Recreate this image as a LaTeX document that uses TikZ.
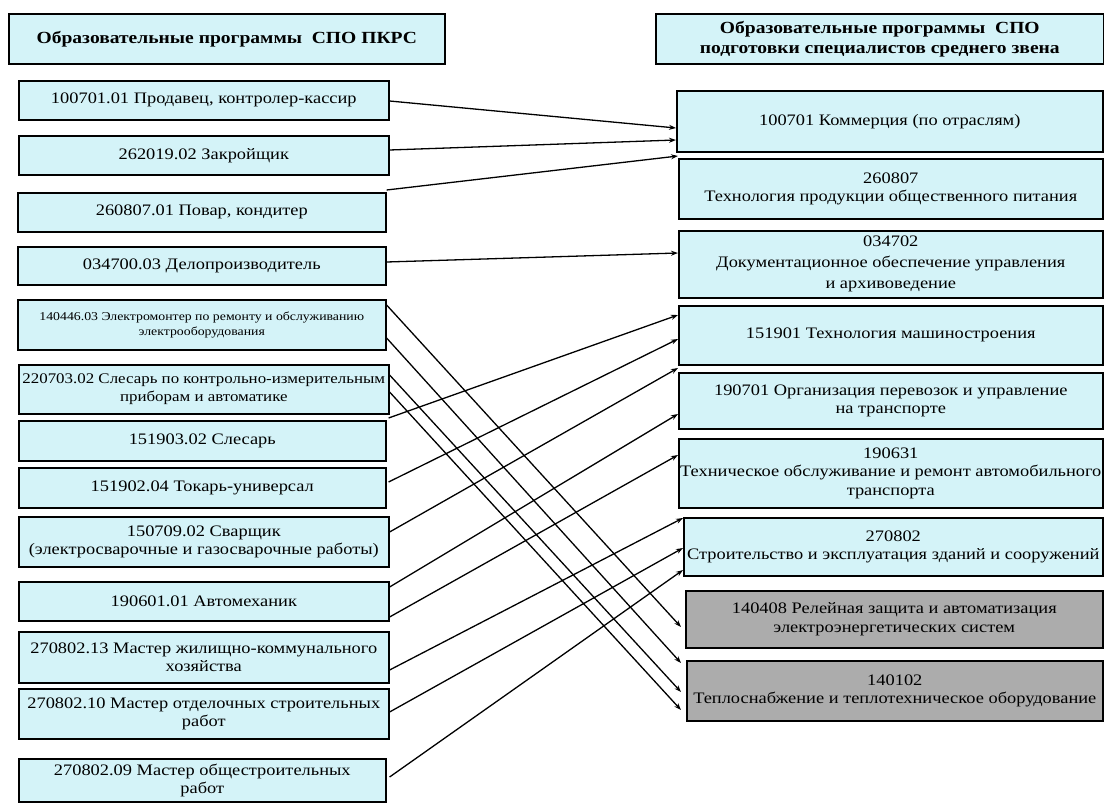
\documentclass[tikz,border=0pt]{standalone}
\usepackage{fontspec}
\setmainfont{Liberation Serif}[FakeStretch=1.15, BoldFont={Liberation Serif Bold}, BoldFeatures={FakeStretch=1.15}]
\usetikzlibrary{arrows.meta,calc}
\definecolor{cyanfill}{RGB}{212,243,248}
\definecolor{grayfill}{RGB}{172,172,172}
\tikzset{
  box/.style={draw, line width=1.6pt, fill=cyanfill, align=center, inner sep=0pt, anchor=north west, font=\fontsize{16}{18.5}\selectfont},
  graybox/.style={box, fill=grayfill},
  titlebox/.style={box, font=\fontsize{17}{20}\selectfont\bfseries},
  conn/.style={line width=1.3pt, -{Stealth[length=7pt,width=5pt]}}
}
\begin{document}
\begin{tikzpicture}[x=1pt,y=-1pt]
\fill[white] (0,0) rectangle (1104,803);
\useasboundingbox (0,0) rectangle (1104,803);
% left column
\node[titlebox, minimum width=436, minimum height=50] (LT) at (8,13) {Образовательные программы\ \ СПО ПКРС};
\node[box, minimum width=370, minimum height=39] (L1) at (18,80) {100701.01 Продавец, контролер-кассир};
\node[box, minimum width=370, minimum height=39] (L2) at (18,135) {262019.02 Закройщик};
\node[box, minimum width=368, minimum height=39] (L3) at (17,192) {260807.01 Повар, кондитер};
\node[box, minimum width=368, minimum height=38] (L4) at (17,246) {034700.03 Делопроизводитель};
\node[box, minimum width=368, minimum height=50, font=\fontsize{12}{15}\selectfont] (L5) at (17,299) {140446.03 Электромонтер по ремонту и обслуживанию\\электрооборудования};
\node[box, minimum width=370, minimum height=49, font=\fontsize{14.7}{17.5}\selectfont] (L6) at (18,364) {220703.02 Слесарь по контрольно-измерительным\\приборам и автоматике};
\node[box, minimum width=367, minimum height=40] (L7) at (18,420) {151903.02 Слесарь};
\node[box, minimum width=367, minimum height=40] (L8) at (18,467) {151902.04 Токарь-универсал};
\node[box, minimum width=370, minimum height=50] (L9) at (18,516) {150709.02 Сварщик\\(электросварочные и газосварочные работы)};
\node[box, minimum width=370, minimum height=39] (L10) at (18,581) {190601.01 Автомеханик};
\node[box, minimum width=370, minimum height=51] (L11) at (18,631) {270802.13 Мастер жилищно-коммунального\\хозяйства};
\node[box, minimum width=370, minimum height=50] (L12) at (18,688) {270802.10 Мастер отделочных строительных\\работ};
\node[box, minimum width=367, minimum height=43] (L13) at (18,758) {270802.09 Мастер общестроительных\\работ};
% right column
\node[titlebox, minimum width=448, minimum height=50] (RT) at (655,13) {Образовательные программы\ \ СПО\\подготовки специалистов среднего звена};
\node[box, minimum width=426, minimum height=61] (R1) at (676,90) {100701 Коммерция (по отраслям)};
\node[box, minimum width=424, minimum height=60] (R2) at (678,158) {260807\\Технология продукции общественного питания};
\node[box, minimum width=424, minimum height=67, font=\fontsize{16}{21}\selectfont] (R3) at (678,230) {034702\\Документационное обеспечение управления\\и архивоведение};
\node[box, minimum width=424, minimum height=59] (R4) at (678,305) {151901 Технология машиностроения};
\node[box, minimum width=424, minimum height=56] (R5) at (678,372) {190701 Организация перевозок и управление\\на транспорте};
\node[box, minimum width=424, minimum height=69] (R6) at (678,438) {190631\\Техническое обслуживание и ремонт автомобильного\\транспорта};
\node[box, minimum width=419, minimum height=58] (R7) at (683,517) {270802\\Строительство и эксплуатация зданий и сооружений};
\node[graybox, minimum width=417, minimum height=57] (R8) at (685,590) {140408 Релейная защита и автоматизация\\электроэнергетических систем};
\node[graybox, minimum width=416, minimum height=60] (R9) at (686,660) {140102\\Теплоснабжение и теплотехническое оборудование};
% connectors
\draw[conn] ($(L1.north east)+(0,21)$) -- ($(R1.north west)+(0,38)$);
\draw[conn] ($(L2.north east)+(0,15)$) -- ($(R1.north west)+(0,50)$);
\draw[conn] ($(L3.north east)+(0,-2)$) -- ($(R2.north west)+(0,-2)$);
\draw[conn] ($(L4.north east)+(0,16)$) -- ($(R3.north west)+(0,23)$);
\draw[conn] ($(L5.north east)+(0,6)$) -- ($(R8.north west)+(-4,37)$);
\draw[conn] ($(L5.north east)+(0,39)$) -- ($(R9.north west)+(-5,3)$);
\draw[conn] ($(L6.north east)+(0,11)$) -- ($(R9.north west)+(-5,32)$);
\draw[conn] ($(L6.north east)+(0,28)$) -- ($(R9.north west)+(-5,50)$);
\draw[conn] ($(L7.north east)+(2,-2)$) -- ($(R4.north west)+(0,10)$);
\draw[conn] ($(L8.north east)+(2,15)$) -- ($(R4.north west)+(0,34)$);
\draw[conn] ($(L9.north east)+(0,16)$) -- ($(R5.north west)+(0,-4)$);
\draw[conn] ($(L10.north east)+(0,6)$) -- ($(R5.north west)+(0,42)$);
\draw[conn] ($(L10.north east)+(0,36)$) -- ($(R6.north west)+(0,17)$);
\draw[conn] ($(L11.north east)+(0,39)$) -- ($(R7.north west)+(0,1)$);
\draw[conn] ($(L12.north east)+(0,24)$) -- ($(R7.north west)+(0,31)$);
\draw[conn] ($(L13.north east)+(3,19)$) -- ($(R7.north west)+(0,53)$);
\end{tikzpicture}
\end{document}
